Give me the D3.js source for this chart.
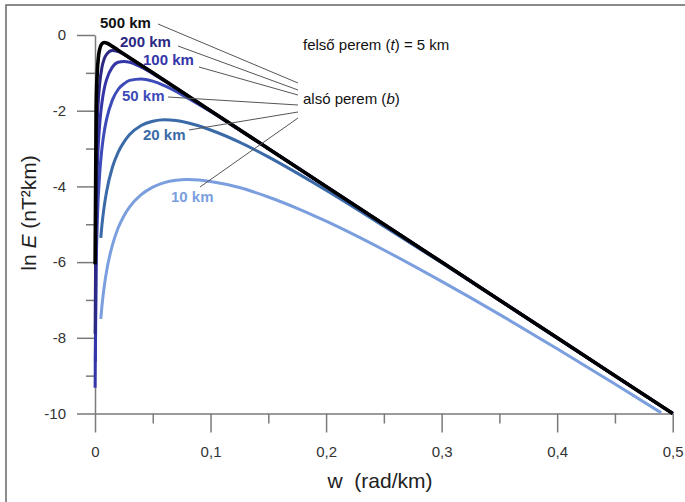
<!doctype html>
<html lang="hu">
<head>
  <meta charset="utf-8">
  <title>ln E - w</title>
  <script src="https://cdn.jsdelivr.net/npm/d3@7"></script>
  <style>
    body { margin: 0; background: #fff; }
    svg { display: block; font-family: "Liberation Sans", Arial, sans-serif; }
    .axis path, .axis line { stroke: #7a7a7a; stroke-width: 1.5; }
    .axis text { fill: #333; font-size: 15px; }
  </style>
</head>
<body>
<svg id="chart" width="685" height="502"></svg>
<script>
  // --- data (w in rad/km, ln E) ---
  var seriesNames = ["10 km", "20 km", "50 km", "100 km", "200 km", "500 km"];

  var w10 = [0.005, 0.006, 0.008, 0.01, 0.015, 0.02, 0.025, 0.03, 0.04, 0.05, 0.06, 0.07, 0.08, 0.09, 0.1, 0.125, 0.15, 0.175, 0.2, 0.25, 0.3, 0.35, 0.4, 0.45, 0.49];
  var e10 = [-7.50, -7.16, -6.64, -6.24, -5.56, -5.10, -4.78, -4.54, -4.22, -4.02, -3.90, -3.84, -3.82, -3.83, -3.87, -4.03, -4.28, -4.58, -4.92, -5.68, -6.51, -7.38, -8.29, -9.22, -9.98];

  var w20 = [0.005, 0.006, 0.008, 0.01, 0.015, 0.02, 0.025, 0.03, 0.04, 0.05, 0.06, 0.07, 0.08, 0.1, 0.125, 0.15, 0.175, 0.2, 0.25, 0.3, 0.35, 0.4, 0.45, 0.5];
  var e20 = [-5.36, -5.02, -4.52, -4.14, -3.50, -3.10, -2.83, -2.63, -2.39, -2.28, -2.24, -2.26, -2.32, -2.51, -2.83, -3.22, -3.65, -4.10, -5.05, -6.02, -7.01, -8.01, -9.00, -10.0];

  var w50 = [0.0003, 0.001, 0.002, 0.004, 0.006, 0.008, 0.01, 0.015, 0.02, 0.025, 0.03, 0.04, 0.05, 0.06, 0.08, 0.1, 0.125, 0.15, 0.2, 0.3, 0.4, 0.5];
  var e50 = [-8.63, -6.27, -4.94, -3.69, -3.00, -2.55, -2.23, -1.72, -1.44, -1.29, -1.20, -1.16, -1.22, -1.34, -1.66, -2.02, -2.51, -3.00, -4.00, -6.00, -8.00, -10.0];

  var w100 = [0.0001, 0.001, 0.002, 0.004, 0.006, 0.008, 0.01, 0.015, 0.02, 0.025, 0.03, 0.04, 0.05, 0.06, 0.08, 0.1, 0.2, 0.3, 0.4, 0.5];
  var e100 = [-9.32, -4.82, -3.55, -2.38, -1.79, -1.42, -1.18, -0.85, -0.72, -0.70, -0.72, -0.85, -1.02, -1.21, -1.60, -2.00, -4.00, -6.00, -8.00, -10.0];

  var w200 = [0.0001, 0.001, 0.002, 0.004, 0.006, 0.008, 0.01, 0.015, 0.02, 0.03, 0.04, 0.1, 0.2, 0.3, 0.4, 0.5];
  var e200 = [-7.89, -3.48, -2.30, -1.31, -0.86, -0.63, -0.51, -0.41, -0.44, -0.61, -0.80, -2.00, -4.00, -6.00, -8.00, -10.0];

  var w500 = [0.0001, 0.001, 0.002, 0.003, 0.004, 0.006, 0.008, 0.01, 0.015, 0.02, 0.05, 0.1, 0.2, 0.3, 0.4, 0.5];
  var e500 = [-6.06, -1.90, -0.97, -0.57, -0.38, -0.23, -0.20, -0.21, -0.30, -0.40, -1.00, -2.00, -4.00, -6.00, -8.00, -10.0];

  var xTicks = [0, 0.1, 0.2, 0.3, 0.4, 0.5];
  var xTickLabels = ["0", "0,1", "0,2", "0,3", "0,4", "0,5"];
  var xMinor = [0.05, 0.15, 0.25, 0.35, 0.45];
  var yTicks = [0, -2, -4, -6, -8, -10];
  var yTickLabels = ["0", "-2", "-4", "-6", "-8", "-10"];
  var yMinor = [-1, -3, -5, -7, -9];

  // --- styling / layout ---
  var colors = ["#7b9fde", "#3b6aa8", "#3d4bb8", "#3436a8", "#2c2884", "#000000"];
  var widths = [3, 3, 3, 3, 3, 3.6];
  var svg = d3.select("#chart");

  var x = d3.scaleLinear().domain([0, 0.5]).range([95, 672.7]);
  var y = d3.scaleLinear().domain([-10, 0]).range([413.5, 35]);

  // frame (only top and left edges are visible in the picture)
  svg.append("path").attr("d", "M6,510V5H690").attr("fill", "none")
    .attr("stroke", "#666").attr("stroke-width", 1.5);

  // y axis
  svg.append("g").attr("class", "axis").attr("transform", "translate(" + x(0) + ",0)")
    .call(d3.axisLeft(y).tickValues(yMinor).tickSize(9).tickSizeOuter(0).tickFormat(""));
  svg.append("g").attr("class", "axis").attr("transform", "translate(" + x(0) + ",0)")
    .call(d3.axisLeft(y).tickValues(yTicks).tickSize(18).tickSizeOuter(0).tickPadding(11)
      .tickFormat(function(d, i) { return yTickLabels[i]; }))
    .call(function(g) { g.select(".domain").remove(); });

  // x axis
  svg.append("g").attr("class", "axis").attr("transform", "translate(0," + y(-10) + ")")
    .call(d3.axisBottom(x).tickValues(xMinor).tickSize(10).tickSizeOuter(0).tickFormat(""));
  svg.append("g").attr("class", "axis").attr("transform", "translate(0," + y(-10) + ")")
    .call(d3.axisBottom(x).tickValues(xTicks).tickSize(19).tickSizeOuter(0).tickPadding(14)
      .tickFormat(function(d, i) { return xTickLabels[i]; }))
    .call(function(g) { g.select(".domain").remove(); });

  svg.selectAll(".axis text").attr("font-family", null);

  // axis titles
  svg.append("text").attr("x", 380).attr("y", 488).attr("text-anchor", "middle")
    .attr("font-size", 21).attr("fill", "#222").attr("xml:space", "preserve").text("w  (rad/km)");

  var yt = svg.append("text").attr("transform", "translate(36,213) rotate(-90)")
    .attr("text-anchor", "middle").attr("font-size", 21).attr("fill", "#222");
  yt.append("tspan").text("ln ");
  yt.append("tspan").attr("font-style", "italic").text("E");
  yt.append("tspan").text(" (nT²km)");

  // curves
  var allW = [w10, w20, w50, w100, w200, w500];
  var allE = [e10, e20, e50, e100, e200, e500];
  var line = d3.line().x(function(d) { return x(d[0]); }).y(function(d) { return y(d[1]); })
    .curve(d3.curveMonotoneX);

  seriesNames.forEach(function(name, i) {
    var pts = d3.zip(allW[i], allE[i]);
    svg.append("path").datum(pts).attr("d", line)
      .attr("fill", "none").attr("stroke", colors[i]).attr("stroke-width", widths[i])
      .attr("stroke-linejoin", "round").attr("stroke-linecap", "butt");
  });

  // labels + leader lines (pixel layout)
  var labelPos = [[171, 202], [143, 140], [122, 101], [143, 65], [120, 47], [100, 28]];
  var leadStart = [[200, 187], [189, 130], [168, 97], [199, 67], [178, 46], [158, 24]];
  var leadEnd = [[298, 118], [298, 112], [298, 105], [298, 95], [298, 90], [298, 83]];

  seriesNames.forEach(function(name, i) {
    svg.append("line")
      .attr("x1", leadStart[i][0]).attr("y1", leadStart[i][1])
      .attr("x2", leadEnd[i][0]).attr("y2", leadEnd[i][1])
      .attr("stroke", "#555").attr("stroke-width", 1);
    svg.append("text").attr("x", labelPos[i][0]).attr("y", labelPos[i][1])
      .attr("font-size", 15).attr("font-weight", "bold")
      .attr("fill", i == 5 ? "#111" : colors[i]).text(name);
  });

  var t1 = svg.append("text").attr("x", 303).attr("y", 50).attr("font-size", 15).attr("fill", "#111");
  t1.append("tspan").text("felső perem (");
  t1.append("tspan").attr("font-style", "italic").text("t");
  t1.append("tspan").text(") = 5 km");

  var t2 = svg.append("text").attr("x", 303).attr("y", 104).attr("font-size", 15).attr("fill", "#111");
  t2.append("tspan").text("alsó perem (");
  t2.append("tspan").attr("font-style", "italic").text("b");
  t2.append("tspan").text(")");
</script>
</body>
</html>
